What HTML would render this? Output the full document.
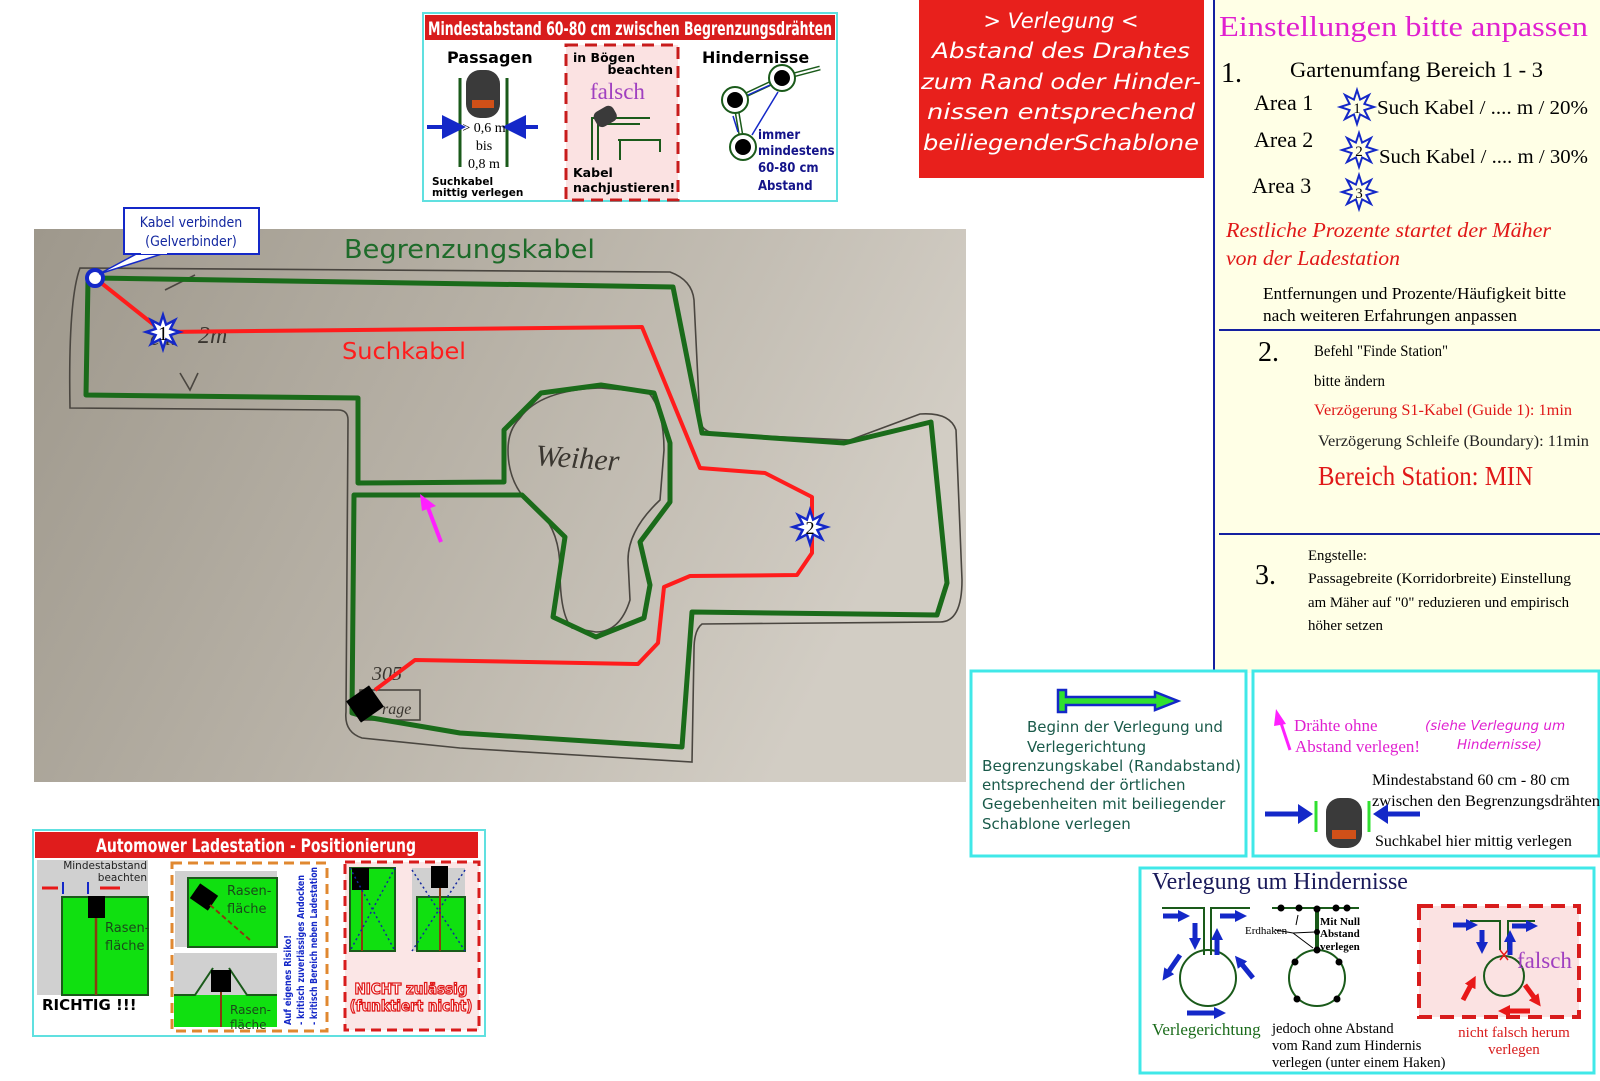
<!DOCTYPE html>
<html><head><meta charset="utf-8"><style>
html,body{margin:0;padding:0;background:#fff;}
svg{display:block;}
.ser{font-family:"Liberation Serif",serif;}
.san{font-family:"DejaVu Sans","Liberation Sans",sans-serif;}
.sanc{font-family:"DejaVu Sans Condensed","DejaVu Sans","Liberation Sans",sans-serif;}
</style></head><body>
<svg width="1600" height="1081" viewBox="0 0 1600 1081" xmlns="http://www.w3.org/2000/svg">
<defs>
<linearGradient id="ph" x1="0" y1="0" x2="1" y2="0.3">
<stop offset="0" stop-color="#9e988c"/><stop offset="0.5" stop-color="#b7b1a6"/><stop offset="1" stop-color="#d2cdc4"/>
</linearGradient>
<polygon id="star" points="0,-17 3.1,-7.4 12,-12 7.4,-3.1 17,0 7.4,3.1 12,12 3.1,7.4 0,17 -3.1,7.4 -12,12 -7.4,3.1 -17,0 -7.4,-3.1 -12,-12 -3.1,-7.4"/>
<marker id="ab" markerWidth="6" markerHeight="6" refX="3" refY="3" orient="auto"><path d="M0,0 L6,3 L0,6 z" fill="#1428c8"/></marker>
<marker id="bb" markerUnits="userSpaceOnUse" markerWidth="12" markerHeight="12" refX="4" refY="6" orient="auto"><path d="M0,0 L12,6 L0,12 z" fill="#1428c8"/></marker>
<marker id="rb" markerUnits="userSpaceOnUse" markerWidth="12" markerHeight="12" refX="4" refY="6" orient="auto"><path d="M0,0 L12,6 L0,12 z" fill="#e81818"/></marker>
</defs>

<!-- photo -->
<rect x="34" y="229" width="932" height="553" fill="url(#ph)"/>
<g fill="none" stroke="#4a4640" stroke-width="1.6">
<path d="M80,268 L670,272 Q692,280 694,300 L700,422 Q704,434 722,434 L850,440 L920,414 Q950,412 956,430 L962,580 Q962,622 940,622 L702,624 Q694,630 694,650 L692,762 L460,748 L362,738 Q344,732 346,712 L348,420 Q348,410 338,410 L70,408 Q68,300 80,268 Z"/>
<path d="M520,418 Q540,390 600,388 L648,392 Q664,410 664,450 L660,500 Q628,530 628,560 L630,600 Q620,632 596,632 L572,628 Q560,615 560,570 Q560,532 540,512 Q508,490 508,450 Q508,430 520,418 Z"/>
<rect x="360" y="690" width="60" height="30"/>
<path d="M165,290 L195,275 M180,373 L190,390 L198,373"/>
</g>
<g font-family="'Liberation Serif',serif" font-style="italic" fill="#3a3630">
<text x="535" y="465" font-size="30" transform="rotate(4 535 465)">Weiher</text>
<text x="150" y="345" font-size="22">ca.</text>
<text x="198" y="343" font-size="24">2m</text>
<text x="372" y="680" font-size="20">305</text>
<text x="382" y="714" font-size="16">rage</text>
</g>
<polyline fill="none" stroke="#1a6b1a" stroke-width="5" stroke-linejoin="round" points="95,278 673,287 702,433 844,443 931,422 947,583 937,615 692,612 682,747 460,733 366,717 352,713 354,495 522,495 565,537 553,617 596,637 644,618 650,585 640,542 670,502 670,443 654,393 601,385 541,393 504,430 504,482 358,483 358,398 86,395 88,280 95,278"/>
<polyline fill="none" stroke="#ff1c1c" stroke-width="4" stroke-linejoin="round" points="95,278 163,332 642,327 700,468 765,473 812,497 812,553 797,575 690,576 664,587 658,643 638,664 415,660 375,690"/>
<rect x="351" y="691" width="28" height="26" fill="#000" transform="rotate(-35 365 704)"/>
<line x1="441" y1="542" x2="427" y2="505" stroke="#ff20ff" stroke-width="4"/>
<polygon points="420,494 436,506 422,511" fill="#ff20ff"/>
<circle cx="95" cy="278" r="8" fill="#fff" stroke="#1428c8" stroke-width="4"/>
<g stroke="#1428c8" stroke-width="2.5" fill="#fff">
<use href="#star" x="163" y="332"/>
<use href="#star" x="810" y="527"/>
</g>
<text x="163" y="340" font-size="20" text-anchor="middle" class="ser">1</text>
<text x="810" y="534" font-size="18" text-anchor="middle" class="ser">2</text>
<text x="344" y="258" font-size="26" fill="#1e6b2a" class="san" textLength="251" lengthAdjust="spacingAndGlyphs">Begrenzungskabel</text>
<text x="342" y="359" font-size="23" fill="#ff1c1c" class="san" textLength="124" lengthAdjust="spacingAndGlyphs">Suchkabel</text>
<polygon points="140,252 168,252 99,274" fill="#fff" stroke="#1428c8" stroke-width="1.5"/>
<rect x="124" y="208" width="135" height="46" fill="#fff" stroke="#1428c8" stroke-width="2"/>
<rect x="141" y="251" width="26" height="3" fill="#fff"/>
<g class="sanc" font-size="14" fill="#1428a0" text-anchor="middle">
<text x="191" y="227">Kabel verbinden</text><text x="191" y="246">(Gelverbinder)</text></g>

<!-- top box -->
<rect x="423" y="13" width="414" height="188" fill="#fff" stroke="#60e0e0" stroke-width="2"/>
<rect x="425" y="15" width="410" height="25" fill="#d81c1c"/>
<text x="428" y="35" font-size="19" font-weight="bold" fill="#fff" class="sanc" textLength="404" lengthAdjust="spacingAndGlyphs">Mindestabstand 60-80 cm zwischen Begrenzungsdrähten</text>
<text x="447" y="63" font-size="16" font-weight="bold" class="san">Passagen</text>
<line x1="460" y1="78" x2="460" y2="167" stroke="#1a5a1a" stroke-width="3"/>
<line x1="507" y1="78" x2="507" y2="167" stroke="#1a5a1a" stroke-width="3"/>
<rect x="466" y="70" width="34" height="48" rx="14" fill="#3a3a3a"/>
<rect x="472" y="100" width="22" height="8" fill="#d05018"/>
<line x1="427" y1="127" x2="454" y2="127" stroke="#1428c8" stroke-width="4" marker-end="url(#ab)"/>
<line x1="538" y1="127" x2="514" y2="127" stroke="#1428c8" stroke-width="4" marker-end="url(#ab)"/>
<g class="ser" font-size="14" text-anchor="middle"><text x="484" y="132">&gt; 0,6 m</text><text x="484" y="150">bis</text><text x="484" y="168">0,8 m</text></g>
<g class="san" font-size="10.5" font-weight="bold"><text x="432" y="185">Suchkabel</text><text x="432" y="196">mittig verlegen</text></g>
<rect x="566" y="45" width="112" height="155" fill="#fbe2e2" stroke="#c81c1c" stroke-width="3" stroke-dasharray="12,7"/>
<g class="san" font-size="12.5" font-weight="bold"><text x="573" y="62">in Bögen</text><text x="673" y="74" text-anchor="end">beachten</text><text x="573" y="177">Kabel</text><text x="573" y="192">nachjustieren!</text></g>
<text x="590" y="99" font-size="23" fill="#a040c0" class="ser">falsch</text>
<path d="M592,160 V118 H650 M598,160 V124 H640 M618,140 H660 V152 M620,160 V140" fill="none" stroke="#1a5a1a" stroke-width="2"/>
<rect x="594" y="108" width="22" height="17" rx="6" fill="#3a3a3a" transform="rotate(-30 605 116)"/>
<text x="702" y="63" font-size="16" font-weight="bold" class="san">Hindernisse</text>
<path d="M735,100 L782,78 M743,147 L735,100 M782,78 L820,68" fill="none" stroke="#1a5a1a" stroke-width="5"/>
<path d="M735,100 L782,78 M743,147 L735,100 M782,78 L820,68" fill="none" stroke="#fff" stroke-width="2"/>
<g fill="#fff" stroke="#1a5a1a" stroke-width="2"><circle cx="735" cy="100" r="13"/><circle cx="782" cy="78" r="13"/><circle cx="743" cy="147" r="13"/></g>
<g fill="#000"><circle cx="735" cy="100" r="8"/><circle cx="782" cy="78" r="8"/><circle cx="743" cy="147" r="8"/></g>
<path d="M748,95 L770,85 M778,92 L752,135 M733,116 L738,132" stroke="#1428c8" stroke-width="1.5" fill="none"/>
<g class="sanc" font-size="13" font-weight="bold" fill="#14148a"><text x="758" y="139">immer</text><text x="758" y="155">mindestens</text><text x="758" y="172">60-80 cm</text><text x="758" y="190">Abstand</text></g>

<!-- red box -->
<rect x="919" y="0" width="285" height="178" fill="#e8201c"/>
<g class="san" font-style="italic" font-size="21" fill="#fff" text-anchor="middle">
<text x="1061" y="28">&gt; Verlegung &lt;</text>
<text x="1061" y="58" textLength="258" lengthAdjust="spacingAndGlyphs">Abstand des Drahtes</text>
<text x="1061" y="89" textLength="280" lengthAdjust="spacingAndGlyphs">zum Rand oder Hinder-</text>
<text x="1061" y="119" textLength="268" lengthAdjust="spacingAndGlyphs">nissen entsprechend</text>
<text x="1061" y="150" textLength="276" lengthAdjust="spacingAndGlyphs">beiliegenderSchablone</text></g>

<!-- right panel -->
<rect x="1214" y="0" width="386" height="673" fill="#ffffe6"/>
<line x1="1214" y1="0" x2="1214" y2="673" stroke="#1420a0" stroke-width="2"/>
<line x1="1219" y1="330" x2="1600" y2="330" stroke="#1420a0" stroke-width="2"/>
<line x1="1219" y1="534" x2="1600" y2="534" stroke="#1420a0" stroke-width="2"/>
<g class="ser">
<text x="1219" y="36" font-size="28" fill="#e020d0" textLength="369" lengthAdjust="spacingAndGlyphs">Einstellungen bitte anpassen</text>
<text x="1221" y="82" font-size="28">1.</text>
<text x="1290" y="77" font-size="22" textLength="253" lengthAdjust="spacingAndGlyphs">Gartenumfang Bereich 1 - 3</text>
<text x="1254" y="110" font-size="22">Area 1</text>
<text x="1254" y="147" font-size="22">Area 2</text>
<text x="1252" y="193" font-size="22">Area 3</text>
<text x="1377" y="114" font-size="20" textLength="211" lengthAdjust="spacingAndGlyphs">Such Kabel / .... m / 20%</text>
<text x="1379" y="163" font-size="20" textLength="209" lengthAdjust="spacingAndGlyphs">Such Kabel / .... m / 30%</text>
</g>
<g stroke="#1428c8" stroke-width="2" fill="#ffffe6">
<use href="#star" x="1357" y="107"/><use href="#star" x="1359" y="150"/><use href="#star" x="1359" y="192"/></g>
<g class="ser" font-size="15" text-anchor="middle"><text x="1357" y="113">1</text><text x="1359" y="156">2</text><text x="1359" y="198">3</text></g>
<g class="ser">
<text x="1226" y="237" font-size="21" font-style="italic" fill="#e01818" textLength="325" lengthAdjust="spacingAndGlyphs">Restliche Prozente  startet der Mäher</text>
<text x="1226" y="265" font-size="21" font-style="italic" fill="#e01818" textLength="174" lengthAdjust="spacingAndGlyphs">von der Ladestation</text>
<text x="1263" y="299" font-size="17" textLength="303" lengthAdjust="spacingAndGlyphs">Entfernungen und Prozente/Häufigkeit bitte</text>
<text x="1263" y="321" font-size="17" textLength="254" lengthAdjust="spacingAndGlyphs">nach weiteren Erfahrungen anpassen</text>
<text x="1258" y="361" font-size="28">2.</text>
<text x="1314" y="356" font-size="16" textLength="134" lengthAdjust="spacingAndGlyphs">Befehl "Finde Station"</text>
<text x="1314" y="386" font-size="16" textLength="71" lengthAdjust="spacingAndGlyphs">bitte ändern</text>
<text x="1314" y="415" font-size="16" fill="#e01818" textLength="258" lengthAdjust="spacingAndGlyphs">Verzögerung S1-Kabel (Guide 1): 1min</text>
<text x="1318" y="446" font-size="16" fill="#222" textLength="271" lengthAdjust="spacingAndGlyphs">Verzögerung Schleife (Boundary): 11min</text>
<text x="1318" y="485" font-size="27" fill="#e01818" textLength="215" lengthAdjust="spacingAndGlyphs">Bereich Station: MIN</text>
<text x="1255" y="584" font-size="28">3.</text>
<text x="1308" y="560" font-size="15" textLength="59" lengthAdjust="spacingAndGlyphs">Engstelle:</text>
<text x="1308" y="583" font-size="15" textLength="263" lengthAdjust="spacingAndGlyphs">Passagebreite (Korridorbreite) Einstellung</text>
<text x="1308" y="607" font-size="15" textLength="261" lengthAdjust="spacingAndGlyphs">am Mäher auf "0" reduzieren und empirisch</text>
<text x="1308" y="630" font-size="15" textLength="75" lengthAdjust="spacingAndGlyphs">höher setzen</text>
</g>

<!-- box 1 -->
<rect x="971" y="671" width="275" height="185" fill="#fff" stroke="#40e8e8" stroke-width="3"/>
<path d="M1058,690 H1066 V697 H1155 V692 L1178,701 L1155,710 V705 H1066 V712 H1058 Z" fill="#30e030" stroke="#1428c8" stroke-width="2.5"/>
<g class="san" font-size="15" fill="#1a5a4a">
<text x="1027" y="732">Beginn der Verlegung und</text>
<text x="1027" y="752">Verlegerichtung</text>
<text x="982" y="771" textLength="259" lengthAdjust="spacingAndGlyphs">Begrenzungskabel (Randabstand)</text>
<text x="982" y="790">entsprechend der örtlichen</text>
<text x="982" y="809">Gegebenheiten mit beiliegender</text>
<text x="982" y="829">Schablone verlegen</text></g>

<!-- box 2 -->
<rect x="1253" y="671" width="346" height="185" fill="#fff" stroke="#40e8e8" stroke-width="3"/>
<line x1="1290" y1="750" x2="1280" y2="720" stroke="#ff20ff" stroke-width="3"/>
<polygon points="1276,709 1286,724 1274,726" fill="#ff20ff"/>
<g class="ser" font-size="17" fill="#e020d0"><text x="1294" y="731">Drähte ohne</text><text x="1295" y="752">Abstand verlegen!</text></g>
<g class="san" font-size="13.5" font-style="italic" fill="#e020d0"><text x="1425" y="730">(siehe Verlegung um</text><text x="1457" y="749">Hindernisse)</text></g>
<g class="ser" font-size="16"><text x="1372" y="785">Mindestabstand 60 cm - 80 cm</text><text x="1372" y="806" textLength="228" lengthAdjust="spacingAndGlyphs">zwischen den Begrenzungsdrähten</text><text x="1375" y="846">Suchkabel hier mittig verlegen</text></g>
<line x1="1265" y1="814" x2="1300" y2="814" stroke="#1428c8" stroke-width="5"/>
<polygon points="1298,804 1313,814 1298,824" fill="#1428c8"/>
<line x1="1420" y1="814" x2="1386" y2="814" stroke="#1428c8" stroke-width="5"/>
<polygon points="1388,804 1373,814 1388,824" fill="#1428c8"/>
<line x1="1316" y1="801" x2="1316" y2="832" stroke="#30e030" stroke-width="3"/>
<line x1="1369" y1="801" x2="1369" y2="832" stroke="#30e030" stroke-width="3"/>
<rect x="1326" y="798" width="36" height="50" rx="14" fill="#3a3a3a"/>
<rect x="1332" y="830" width="24" height="9" fill="#d05018"/>

<!-- box 3 -->
<rect x="1140" y="868" width="454" height="205" fill="#fff" stroke="#40e8e8" stroke-width="3"/>
<text x="1152" y="889" font-size="24" fill="#1a1a5a" class="ser">Verlegung um Hindernisse</text>
<g fill="none" stroke="#1a5a1a" stroke-width="2">
<path d="M1162,908 H1204 V955 M1250,908 H1211 V955"/><circle cx="1208" cy="978" r="28"/>
<path d="M1272,908 H1359"/><line x1="1317" y1="908" x2="1317" y2="950" stroke-width="4"/><circle cx="1317" cy="978" r="28"/>
</g>
<g fill="#000"><circle cx="1281" cy="908" r="3.5"/><circle cx="1299" cy="908" r="3.5"/><circle cx="1317" cy="909" r="3.5"/><circle cx="1336" cy="908" r="3.5"/><circle cx="1347" cy="908" r="3.5"/><circle cx="1317" cy="950" r="3.5"/><circle cx="1295" cy="962" r="3.5"/><circle cx="1339" cy="962" r="3.5"/><circle cx="1297" cy="999" r="3.5"/><circle cx="1337" cy="999" r="3.5"/><circle cx="1317" cy="932" r="3"/></g>
<g class="ser" font-size="11" font-weight="bold"><text x="1320" y="925">Mit Null</text><text x="1320" y="937">Abstand</text><text x="1320" y="950">verlegen</text></g>
<text x="1245" y="934" font-size="11" class="ser">Erdhaken</text>
<path d="M1275,930 L1293,933 M1293,933 L1315,932 M1293,933 L1313,948 M1298,915 L1296,925" stroke="#000" stroke-width="1" fill="none"/>
<g stroke="#1428c8" stroke-width="5" fill="none">
<line x1="1163" y1="916" x2="1182" y2="916" marker-end="url(#bb)"/>
<line x1="1220" y1="916" x2="1239" y2="916" marker-end="url(#bb)"/>
<line x1="1195" y1="923" x2="1195" y2="942" marker-end="url(#bb)"/>
<line x1="1217" y1="955" x2="1217" y2="936" marker-end="url(#bb)"/>
<line x1="1180" y1="955" x2="1167" y2="974" marker-end="url(#bb)"/>
<line x1="1253" y1="978" x2="1240" y2="962" marker-end="url(#bb)"/>
<line x1="1187" y1="1013" x2="1218" y2="1013" marker-end="url(#bb)"/>
</g>
<rect x="1419" y="906" width="160" height="111" fill="#fbe2e2" stroke="#d81c1c" stroke-width="4" stroke-dasharray="14,8"/>
<g fill="none" stroke="#1a5a1a" stroke-width="2"><path d="M1470,921 H1500 V950 M1535,921 H1508 V950"/><circle cx="1504" cy="976" r="20"/></g>
<path d="M1500,950 L1508,960 M1508,950 L1500,960" stroke="#e81818" stroke-width="1.5"/>
<g stroke="#1428c8" stroke-width="5" fill="none">
<line x1="1453" y1="925" x2="1470" y2="925" marker-end="url(#bb)"/>
<line x1="1512" y1="926" x2="1530" y2="926" marker-end="url(#bb)"/>
<line x1="1482" y1="930" x2="1482" y2="946" marker-end="url(#bb)"/>
<line x1="1510" y1="955" x2="1510" y2="938" marker-end="url(#bb)"/>
</g>
<g stroke="#e81818" stroke-width="5" fill="none">
<line x1="1463" y1="1000" x2="1472" y2="983" marker-end="url(#rb)"/>
<line x1="1525" y1="985" x2="1536" y2="1000" marker-end="url(#rb)"/>
<line x1="1530" y1="1011" x2="1506" y2="1011" marker-end="url(#rb)"/>
</g>
<text x="1517" y="968" font-size="23" fill="#a040c0" class="ser">falsch</text>
<text x="1152" y="1035" font-size="17" fill="#1a6b1a" class="ser">Verlegerichtung</text>
<g class="ser" font-size="14.5"><text x="1272" y="1033">jedoch ohne Abstand</text><text x="1272" y="1050">vom Rand zum Hindernis</text><text x="1272" y="1067">verlegen (unter einem Haken)</text></g>
<g class="ser" font-size="15" fill="#d81c1c" text-anchor="middle"><text x="1514" y="1037">nicht falsch herum</text><text x="1514" y="1054">verlegen</text></g>

<!-- bottom-left box -->
<rect x="33" y="830" width="452" height="206" fill="#fff" stroke="#60e0e0" stroke-width="2"/>
<rect x="35" y="832" width="443" height="26" fill="#e01c1c"/>
<text x="256" y="852" font-size="19" font-weight="bold" fill="#fff" text-anchor="middle" class="sanc" textLength="320" lengthAdjust="spacingAndGlyphs">Automower Ladestation - Positionierung</text>
<rect x="37" y="860" width="111" height="135" fill="#d0d0d0"/>
<rect x="62" y="897" width="86" height="98" fill="#10e010" stroke="#1a5a1a" stroke-width="2"/>
<line x1="96" y1="915" x2="96" y2="995" stroke="#8a3a10" stroke-width="2.5"/>
<rect x="88" y="896" width="17" height="22" fill="#000"/>
<g class="san" font-size="10.5" fill="#222" text-anchor="end"><text x="147" y="869">Mindestabstand</text><text x="147" y="881">beachten</text></g>
<path d="M42,888 H58 M120,888 H100" stroke="#e81818" stroke-width="3"/>
<path d="M63,882 V894 M88,882 V894" stroke="#1428c8" stroke-width="2"/>
<g class="san" font-size="13" fill="#1a4a1a"><text x="105" y="932">Rasen-</text><text x="105" y="950">fläche</text></g>
<text x="42" y="1010" font-size="15" font-weight="bold" class="san">RICHTIG !!!</text>
<rect x="172" y="863" width="155" height="168" fill="#fff" stroke="#e08830" stroke-width="3" stroke-dasharray="10,6"/>
<rect x="175" y="871" width="102" height="76" fill="#d0d0d0"/>
<rect x="188" y="878" width="89" height="69" fill="#10e010" stroke="#1a5a1a" stroke-width="2"/>
<rect x="193" y="888" width="22" height="18" fill="#000" transform="rotate(35 204 897)"/>
<line x1="210" y1="905" x2="250" y2="940" stroke="#8a3a10" stroke-width="2" stroke-dasharray="5,3"/>
<g class="san" font-size="13" fill="#1a4a1a"><text x="227" y="895">Rasen-</text><text x="227" y="913">fläche</text></g>
<rect x="174" y="953" width="103" height="74" fill="#d0d0d0"/>
<rect x="174" y="995" width="103" height="32" fill="#10e010"/>
<path d="M174,995 H195 L213,968 M229,968 L247,995 H277" stroke="#1a5a1a" stroke-width="2" fill="none"/>
<rect x="211" y="970" width="20" height="22" fill="#000"/>
<line x1="221" y1="992" x2="221" y2="1027" stroke="#8a3a10" stroke-width="2"/>
<g class="san" font-size="12" fill="#1a4a1a"><text x="230" y="1014">Rasen-</text><text x="230" y="1029">fläche</text></g>
<g class="sanc" font-size="10" font-weight="bold" fill="#1428c8" transform="rotate(-90)">
<text x="-1025" y="291" textLength="90" lengthAdjust="spacingAndGlyphs">Auf eigenes Risiko!</text>
<text x="-1025" y="304" textLength="150" lengthAdjust="spacingAndGlyphs">- kritisch zuverlässiges Andocken</text>
<text x="-1025" y="317" textLength="158" lengthAdjust="spacingAndGlyphs">- kritisch Bereich neben Ladestation</text></g>
<rect x="345" y="862" width="134" height="168" fill="#fbe6e6" stroke="#d81c1c" stroke-width="3" stroke-dasharray="10,6"/>
<rect x="350" y="868" width="45" height="83" fill="#10e010" stroke="#1a5a1a" stroke-width="2"/>
<rect x="352" y="868" width="17" height="22" fill="#000"/>
<line x1="362" y1="890" x2="362" y2="951" stroke="#8a3a10" stroke-width="2"/>
<rect x="412" y="868" width="53" height="83" fill="#d0d0d0"/>
<rect x="417" y="897" width="48" height="54" fill="#10e010" stroke="#1a5a1a" stroke-width="2"/>
<rect x="431" y="866" width="17" height="22" fill="#000"/>
<line x1="440" y1="888" x2="440" y2="951" stroke="#8a3a10" stroke-width="2"/>
<path d="M350,868 L395,951 M395,868 L350,951 M412,870 L465,951 M465,870 L412,951" stroke="#1428a0" stroke-width="1.5" stroke-dasharray="2,3"/>
<g class="sanc" font-size="15" font-weight="bold" fill="#fff" stroke="#e01818" stroke-width="1.2" text-anchor="middle"><text x="411" y="994">NICHT zulässig</text><text x="411" y="1011">(funktiert nicht)</text></g>
</svg>
</body></html>
